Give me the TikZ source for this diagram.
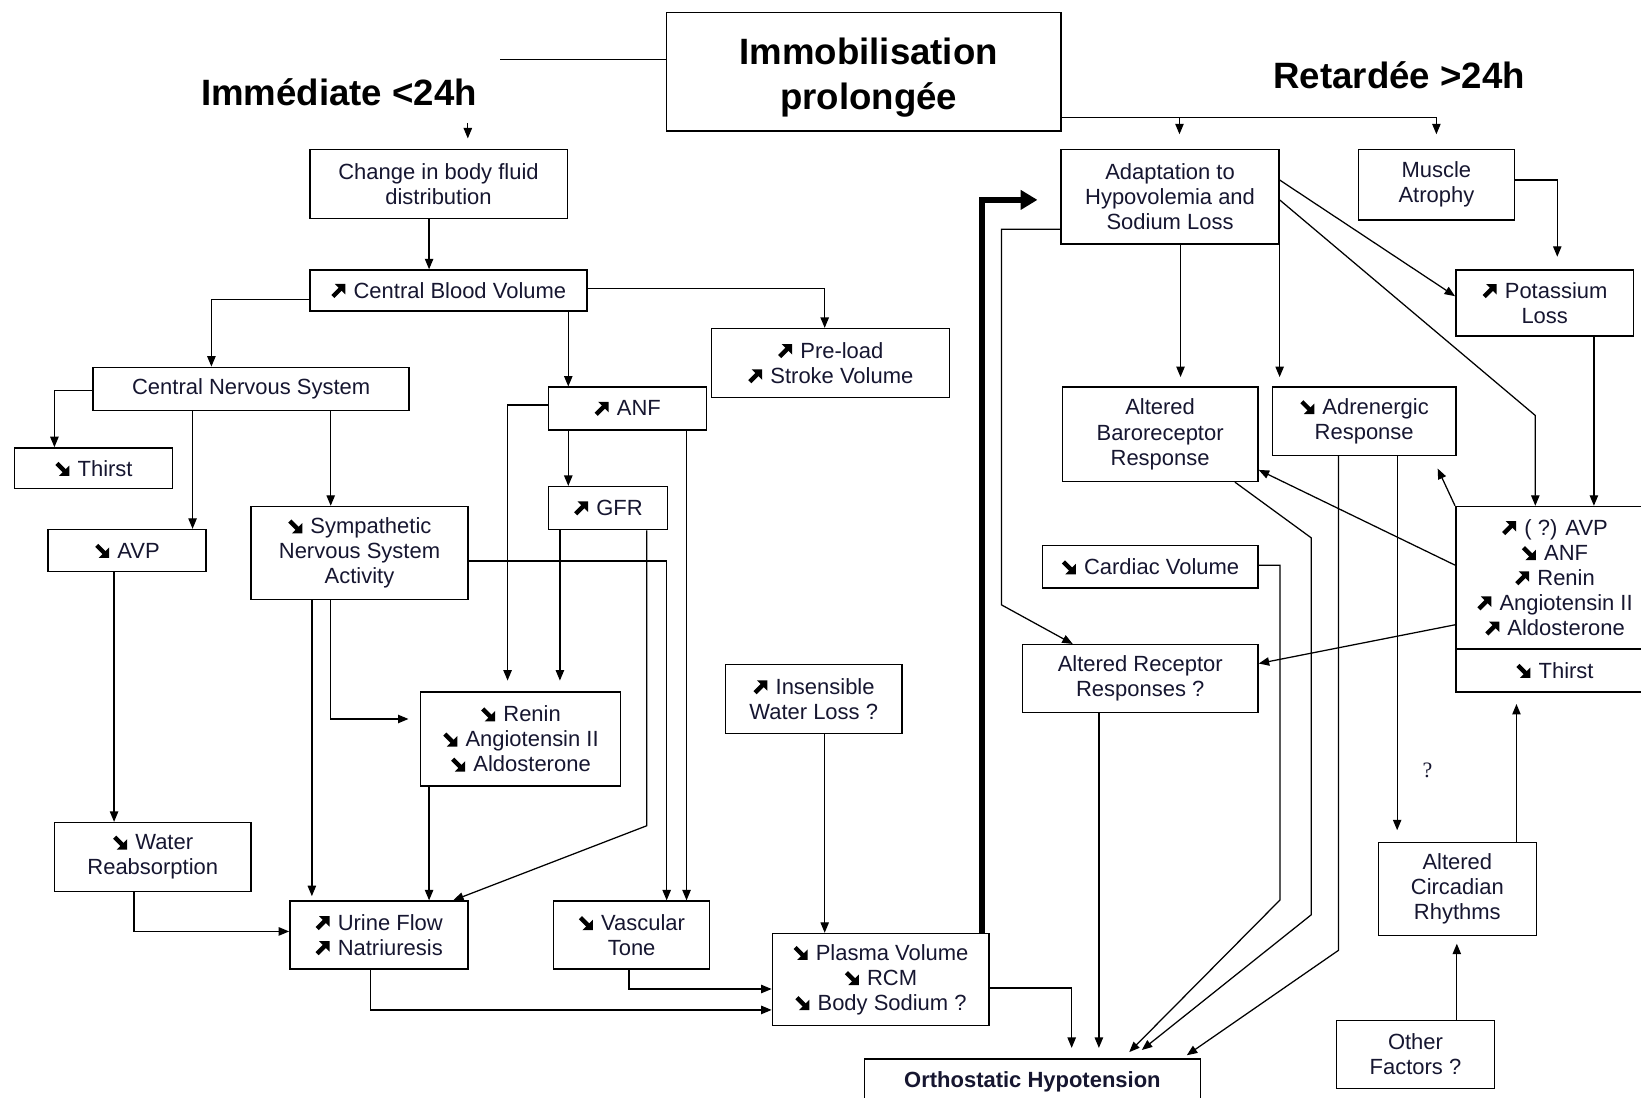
\documentclass[tikz,border=0pt]{standalone}
\usepackage{fontspec}
\setmainfont{Liberation Sans}
\newfontfamily\seriffont{Liberation Serif}
\usetikzlibrary{arrows.meta,calc}
\definecolor{txt}{RGB}{22,22,48}
\newsavebox\upbox
\newsavebox\dnbox
\newcommand\up{\usebox\upbox\kern2pt}
\newcommand\dn{\usebox\dnbox\kern2pt}
\newcommand\bx[6]{\node[bbox, minimum width={#4-#2}, minimum height={#5-#3}] (#1) at ({(#2+#4)/2},{(#3+#5)/2}) {#6};}
\tikzset{
  bbox/.style={draw, line width=1.4pt, inner sep=0pt, align=center, text=txt, font=\fontsize{21}{24}\selectfont},
  conn/.style={line width=1.2pt},
  arr/.style={conn, -{Triangle[length=10pt,width=8pt]}},
  thickarr/.style={line width=6pt, -{Triangle[length=16pt,width=18pt]}},
  title/.style={font=\fontsize{35}{43}\selectfont\bfseries, align=center, inner sep=0pt}
}
\begin{document}
\sbox\upbox{\begin{pgfpicture}\pgfsetbaseline{0pt}\color{black}%
 \pgfpathmoveto{\pgfpoint{13.5pt}{13.5pt}}\pgfpathlineto{\pgfpoint{3.5pt}{13.5pt}}\pgfpathlineto{\pgfpoint{13.5pt}{3.5pt}}\pgfpathclose\pgfusepath{fill}%
 \pgfsetlinewidth{4.2pt}\pgfpathmoveto{\pgfpoint{1.6pt}{1.6pt}}\pgfpathlineto{\pgfpoint{9.5pt}{9.5pt}}\pgfusepath{stroke}%
\end{pgfpicture}}
\sbox\dnbox{\begin{pgfpicture}\pgfsetbaseline{0pt}\color{black}%
 \pgfpathmoveto{\pgfpoint{13.5pt}{0.2pt}}\pgfpathlineto{\pgfpoint{3.5pt}{0.2pt}}\pgfpathlineto{\pgfpoint{13.5pt}{10.2pt}}\pgfpathclose\pgfusepath{fill}%
 \pgfsetlinewidth{4.2pt}\pgfpathmoveto{\pgfpoint{1.6pt}{12.1pt}}\pgfpathlineto{\pgfpoint{9.5pt}{4.2pt}}\pgfusepath{stroke}%
\end{pgfpicture}}
\begin{tikzpicture}[x=1pt,y=-1pt]
\useasboundingbox (0,0) rectangle (1568,1049);
\clip (0,0) rectangle (1568,1049);
\fill[white] (0,0) rectangle (1568,1049);

% titles
\node[draw, line width=1.5pt, minimum width=377, minimum height=113, inner sep=0pt] (title) at (825.5,68.5) {};
\node[title] (titletext) at (830,74) {Immobilisation\\prolongée};
\node[title] (imm) at (324,88) {Immédiate <24h};
\node[title] (ret) at (1337,72) {Retardée >24h};
\coordinate (lend) at (478,57);

% left boxes
\bx{change}{296}{143}{542}{209}{Change in body fluid\\distribution}
\bx{cbv}{296}{258}{561}{297}{\up{} Central Blood Volume}
\bx{cns}{89}{351}{391}{392}{Central Nervous System}
\bx{anf}{524}{370}{675}{411}{\up{} ANF}
\bx{pre}{680}{314}{907}{380}{\up{} Pre-load\\\up{} Stroke Volume}
\bx{thirst}{14}{428}{165}{467}{\dn{} Thirst}
\bx{avp}{46}{506}{197}{546}{\dn{} AVP}
\bx{sns}{240}{484}{447}{573}{\dn{} Sympathetic\\Nervous System\\Activity}
\bx{gfr}{524}{465}{638}{506}{\up{} GFR}
\bx{renin}{402}{661}{593}{751}{\dn{} Renin\\\dn{} Angiotensin II\\\dn{} Aldosterone}
\bx{water}{52}{786}{240}{852}{\dn{} Water\\Reabsorption}
\bx{urine}{277}{861}{447}{926}{\up{} Urine Flow\\\up{} Natriuresis}
\bx{vasc}{529}{861}{678}{926}{\dn{} Vascular\\Tone}
\bx{insens}{693}{635}{862}{701}{\up{} Insensible\\Water Loss ?}
\bx{plasma}{738}{892}{945}{980}{\dn{} Plasma Volume\\\dn{} RCM\\\dn{} Body Sodium ?}
\bx{ortho}{826}{1012}{1147}{1056}{\textbf{Orthostatic Hypotension}}

% right boxes
\bx{adapt}{1014}{143}{1222}{233}{Adaptation to\\Hypovolemia and\\Sodium Loss}
\bx{muscle}{1298}{143}{1447}{210}{Muscle\\Atrophy}
\bx{pot}{1391}{258}{1561}{321}{\up{} Potassium\\Loss}
\bx{baro}{1015}{370}{1202}{460}{Altered\\Baroreceptor\\Response}
\bx{adr}{1216}{370}{1391}{435}{\dn{} Adrenergic\\Response}
\bx{cardiac}{996}{521}{1202}{562}{\dn{} Cardiac Volume}
\bx{recept}{977}{616}{1202}{681}{Altered Receptor\\Responses ?}
\bx{avpb}{1391}{484}{1580}{620}{\up{} ( ?) AVP\\\dn{} ANF\\\up{} Renin\\\up{} Angiotensin II\\\up{} Aldosterone}
\bx{thirsttwo}{1391}{620}{1580}{661}{\dn{} Thirst}
\bx{circ}{1317}{805}{1468}{894}{Altered\\Circadian\\Rhythms}
\bx{other}{1277}{975}{1428}{1040}{Other\\Factors ?}
\node[font=\seriffont\fontsize{21}{24}\selectfont, text=txt, inner sep=0pt] (qm) at (1364,736) {?};

% top connectors
\draw[conn] (title.west |- 0,57) -- (lend);
\draw[arr] ($(change.north -| 447,0)+(0,-25)$) -- ($(change.north -| 447,0)+(0,-10)$);
\draw[conn] (title.east |- 0,112) -- (muscle.north |- 0,112);
\draw[arr, shorten >=14pt] (muscle.north |- 0,112) -- (muscle.north);
\draw[arr, shorten >=14pt] (1127,112) -- (adapt.north -| 1127,0);

% left connectors
\draw[arr] (change.south -| 410,0) -- (cbv.north -| 410,0);
\draw[arr] (cbv.west |- 0,286) -| (cns.north -| 202,0);
\draw[arr] (cbv.south -| 543,0) -- (anf.north -| 543,0);
\draw[arr] (cbv.east |- 0,276) -| (pre.north -| 788,0);
\draw[arr] (cns.west |- 0,373) -| (thirst.north -| 52,0);
\draw[arr] (cns.south -| 184,0) -- (avp.north -| 184,0);
\draw[arr] (cns.south -| 316,0) -- (sns.north -| 316,0);
\draw[arr] (anf.south -| 543,0) -- (gfr.north -| 543,0);
\draw[arr, shorten >=10pt] (anf.west |- 0,387) -| (renin.north -| 485,0);
\draw[arr, shorten >=10pt] (gfr.south -| 535,0) -- (renin.north -| 535,0);
\draw[arr, shorten >=11pt] (sns.south -| 316,0) |- (renin.west |- 0,687);
\draw[arr, shorten >=4pt] (sns.south -| 298,0) -- (urine.north -| 298,0);
\draw[arr] (sns.east |- 0,536) -| (vasc.north -| 637,0);
\draw[arr] (anf.south -| 656,0) -- (vasc.north -| 656,0);
\draw[arr] (gfr.south -| 618,0) -- (618,789) -- (urine.north -| 433,0);
\draw[arr] (renin.south -| 410,0) -- (urine.north -| 410,0);
\draw[arr] (avp.south -| 109,0) -- (water.north -| 109,0);
\draw[arr] (water.south -| 128,0) |- (urine.west |- 0,890);
\draw[arr] (vasc.south -| 601,0) |- (plasma.west |- 0,945);
\draw[arr] (urine.south -| 354,0) |- (plasma.west |- 0,965);
\draw[arr] (insens.south -| 788,0) -- (plasma.north -| 788,0);
\draw[arr, shorten >=10pt] (plasma.east |- 0,944) -| (ortho.north -| 1024,0);
\draw[thickarr] (plasma.north -| 938,0) |- ($(adapt.west |- 0,191)+(-22,0)$);

% right connectors
\draw[arr, shorten >=9pt] (adapt.south -| 1128,0) -- (baro.north -| 1128,0);
\draw[arr, shorten >=9pt] (adapt.south east) -- (adr.north -| adapt.south east);
\draw[arr] (adapt.east |- 0,172) -- (pot.west |- 0,283);
\draw[arr] (adapt.east |- 0,191) -- (1467,397) -- (avpb.north -| 1467,0);
\draw[arr, shorten >=12pt] (muscle.east |- 0,172) -| (pot.north -| 1488,0);
\draw[arr] (pot.south -| 1523,0) -- (avpb.north -| 1523,0);
\draw[arr] (adapt.west |- 0,219) -| (957,578) -- (recept.north -| 1025,0);
\draw[arr] (avpb.north west) -- ($(adr.south east)+(-18,12)$);
\draw[arr] (avpb.west |- 0,540) -- (baro.east |- 0,449);
\draw[arr] (avpb.west |- 0,597) -- (recept.east |- 0,634);
\draw[arr, shorten >=10pt] (recept.south -| 1050,0) -- (ortho.north -| 1050,0);
\draw[arr] (cardiac.east |- 0,540) -| (1223,860) -- ($(ortho.north -| 1079,0)+(0,-6)$);
\draw[arr] (baro.south -| 1180,0) -- (1253,514) -- (1253,874) -- ($(ortho.north -| 1091,0)+(0,-8)$);
\draw[arr] (adr.south -| 1279,0) -- (1279,908) -- ($(ortho.north -| 1134,0)+(0,-3)$);
\draw[arr, shorten >=11pt] (adr.south -| 1335,0) -- (circ.north -| 1335,0);
\draw[arr, shorten >=11pt] (circ.north -| 1449,0) -- (thirsttwo.south -| 1449,0);
\draw[arr, shorten >=7pt] (other.north -| 1392,0) -- (circ.south -| 1392,0);
\end{tikzpicture}
\end{document}
